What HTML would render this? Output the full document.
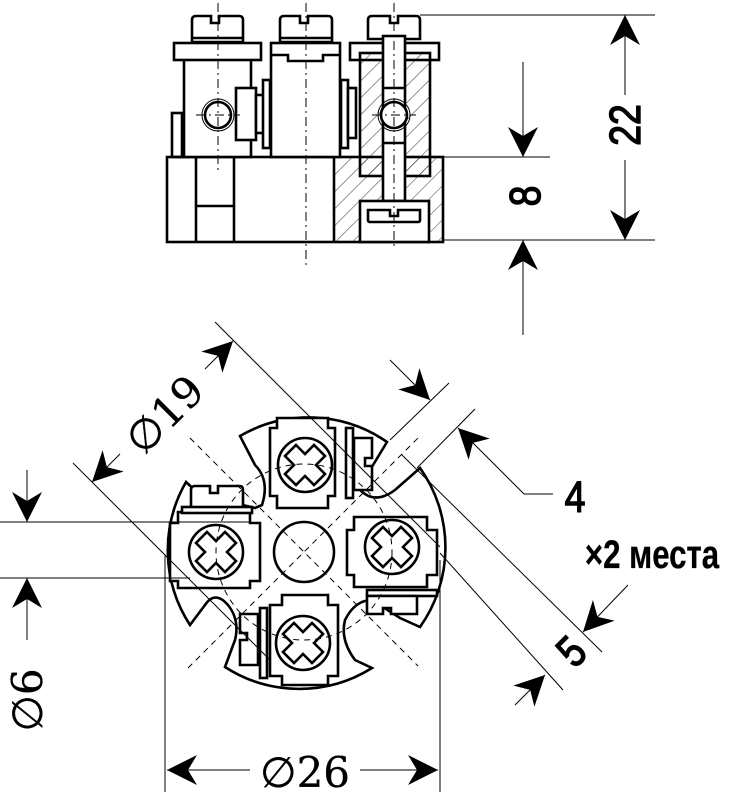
<!DOCTYPE html>
<html><head><meta charset="utf-8"><style>
html,body{margin:0;padding:0;background:#fff;}
svg{display:block;}
.t{stroke:#000;stroke-width:2.6;fill:none;}
.tf{stroke:#000;stroke-width:2.6;fill:#fff;}
.n{stroke:#000;stroke-width:1;fill:none;}
.c{stroke:#000;stroke-width:1;fill:none;stroke-dasharray:9 4 2 4;}
.d{stroke:#000;stroke-width:1;fill:none;stroke-dasharray:6 5;}
text{font-family:"Liberation Sans",sans-serif;fill:#000;stroke:#000;stroke-width:1.4;}
.s{font-family:"DejaVu Serif",serif;stroke-width:0.3;}
</style></head><body>
<svg width="743" height="800" viewBox="0 0 743 800" xmlns="http://www.w3.org/2000/svg">
<defs>
<marker id="a" viewBox="0 0 10 10" refX="10" refY="5" markerWidth="30" markerHeight="30" markerUnits="userSpaceOnUse" orient="auto">
<path d="M0,0 L10,5 L0,10 L3,5 Z" fill="#000"/></marker>
<pattern id="hat" patternUnits="userSpaceOnUse" width="12" height="12" patternTransform="rotate(45)">
<line x1="0" y1="0" x2="0" y2="12" stroke="#000" stroke-width="0.8"/></pattern>
<path id="cr" d="M-9,-20 L0,-11 L9,-20 L20,-9 L11,0 L20,9 L9,20 L0,11 L-9,20 L-20,9 L-11,0 L-20,-9 Z"/>
</defs>

<!-- ============ TOP VIEW ============ -->
<rect x="334" y="157" width="109" height="85" fill="url(#hat)"/>
<rect class="t" x="167" y="157" width="276" height="85"/>
<line class="t" x1="196" y1="157" x2="196" y2="242"/>
<line class="t" x1="234" y1="157" x2="234" y2="242"/>
<line class="t" x1="196" y1="206" x2="234" y2="206"/>
<line class="t" x1="334" y1="157" x2="334" y2="242"/>
<rect class="t" x="172" y="113" width="10" height="44"/>
<rect class="tf" x="184" y="53" width="67" height="104"/>
<rect class="tf" x="174" y="43" width="87" height="17"/>
<path class="tf" d="M192,42 V20 Q192,16 196,16 H211 V23 H219 V16 H239 Q243,16 243,20 V42 Z"/>
<line class="t" x1="192" y1="38" x2="243" y2="38"/>
<circle class="t" cx="218" cy="115" r="13"/>
<circle class="n" cx="218" cy="115" r="16"/>
<rect class="tf" x="236" y="88" width="20" height="52"/>
<rect class="tf" x="256" y="95" width="8" height="38"/>
<rect class="tf" x="263" y="80" width="7" height="68"/>
<rect class="tf" x="271" y="43" width="69" height="114"/>
<path class="t" d="M271,55 H288 V61 H323 V55 H340"/>
<path class="tf" d="M280,42 V20 Q280,16 284,16 H300 V23 H308 V16 H328 Q332,16 332,20 V42 Z"/>
<line class="t" x1="280" y1="38" x2="332" y2="38"/>
<rect class="tf" x="341" y="80" width="7" height="68"/>
<rect class="tf" x="348" y="88" width="8" height="50"/>
<rect class="tf" x="350" y="43" width="89" height="17"/>
<rect x="360" y="53" width="70" height="123" fill="url(#hat)"/>
<rect class="t" x="360" y="53" width="70" height="123"/>
<path class="tf" d="M368,39 V20 Q368,16 372,16 H390 V23 H398 V16 H416 Q420,16 420,20 V39 Z"/>
<rect class="tf" x="383" y="36" width="22" height="165"/>
<line class="t" x1="383" y1="88" x2="405" y2="88"/>
<line class="t" x1="383" y1="143" x2="405" y2="143"/>
<circle class="tf" cx="394" cy="115" r="13"/>
<circle class="n" cx="394" cy="115" r="16"/>
<rect class="tf" x="360" y="201" width="69" height="41"/>
<path class="t" d="M368,210 H390 V216 H398 V210 H420 V220 Q420,222 418,222 H370 Q368,222 368,220 Z"/>
<line class="c" x1="218" y1="3" x2="218" y2="172"/>
<line class="c" x1="306" y1="3" x2="306" y2="268"/>
<line class="c" x1="394" y1="3" x2="394" y2="248"/>
<line class="c" x1="196" y1="115" x2="240" y2="115"/>
<line class="c" x1="372" y1="115" x2="416" y2="115"/>
<line class="n" x1="420" y1="15" x2="655" y2="15"/>
<line class="n" x1="440" y1="157" x2="550" y2="157"/>
<line class="n" x1="443" y1="240" x2="655" y2="240"/>
<line class="n" x1="625" y1="95" x2="625" y2="15" marker-end="url(#a)"/>
<line class="n" x1="625" y1="160" x2="625" y2="240" marker-end="url(#a)"/>
<text font-size="44" transform="translate(640,125) rotate(-90) scale(0.85,1)" text-anchor="middle">22</text>
<line class="n" x1="523" y1="62" x2="523" y2="157" marker-end="url(#a)"/>
<line class="n" x1="523" y1="335" x2="523" y2="240" marker-end="url(#a)"/>
<text font-size="44" transform="translate(540,196) rotate(-90) scale(0.85,1)" text-anchor="middle">8</text>

<!-- ============ BOTTOM VIEW ============ -->
<path class="t" d="M240,436 A137,137 0 0 1 387,442 L370,470 Q355,480 360,490 Q375,505 395,490 L420,468 A137,137 0 0 1 420,627 L400,618 L372,600 Q355,600 345,620 Q340,640 355,660 L372,668 A137,137 0 0 1 225,667 L235,640 Q240,620 228,605 Q215,590 205,605 L190,625 A137,137 0 0 1 186,482 L200,495 L255,508 L262,505 Q270,480 255,465 Z"/>
<path class="tf" d="M277,418 H328 V428 H335 V496 H328 V508 H277 V496 H270 V428 H277 Z"/>
<circle class="t" cx="305" cy="465" r="27"/>
<path class="tf" d="M178,512 H250 V523 H260 V581 H250 V588 H178 V581 H170 V523 H178 Z"/>
<circle class="t" cx="216" cy="552" r="27"/>
<path class="tf" d="M354,517 H427 V530 H437 V575 H427 V587 H354 V575 H347 V530 H354 Z"/>
<circle class="t" cx="392" cy="547" r="27"/>
<path class="tf" d="M282,595 H328 V605 H338 V676 H328 V685 H282 V676 H270 V605 H282 Z"/>
<circle class="t" cx="303" cy="643" r="27"/>
<circle class="t" cx="304" cy="552" r="30"/>
<path class="tf" d="M191,508 V490 Q191,486 195,486 H210 V493 H218 V486 H240 Q243,486 243,490 V508 Z"/>
<rect class="tf" x="182" y="507" width="70" height="6"/>
<rect class="tf" x="346" y="428" width="7" height="70"/>
<path class="tf" d="M354,438 H372 V458 H365 V466 H372 V490 H354 Z"/>
<rect class="tf" x="367" y="590" width="70" height="6"/>
<path class="tf" d="M367,596 V614 H383 V608 H391 V614 H417 V596 Z"/>
<rect class="tf" x="260" y="608" width="7" height="70"/>
<path class="tf" d="M240,614 H258 V665 H240 V640 H247 V633 H240 Z"/>
<g stroke="#000" stroke-width="2.6" fill="#fff">
<use href="#cr" transform="translate(305,465)"/>
<use href="#cr" transform="translate(216,552)"/>
<use href="#cr" transform="translate(392,547)"/>
<use href="#cr" transform="translate(303,643)"/>
</g>
<line class="d" x1="190" y1="438" x2="418" y2="666"/>
<line class="d" x1="188" y1="668" x2="418" y2="438"/>
<circle class="d" cx="304" cy="552" r="88"/>
<line class="n" x1="165" y1="555" x2="165" y2="792"/>
<line class="n" x1="440" y1="560" x2="440" y2="792"/>
<line class="n" x1="250" y1="770" x2="167" y2="770" marker-end="url(#a)"/>
<line class="n" x1="360" y1="770" x2="438" y2="770" marker-end="url(#a)"/>
<text x="305" y="787" font-size="42" text-anchor="middle" class="s">∅26</text>
<line class="n" x1="0" y1="522" x2="250" y2="522"/>
<line class="n" x1="0" y1="578" x2="190" y2="578"/>
<line class="n" x1="27" y1="470" x2="27" y2="522" marker-end="url(#a)"/>
<line class="n" x1="27" y1="640" x2="27" y2="578" marker-end="url(#a)"/>
<text font-size="42" class="s" transform="translate(42,700) rotate(-90)" text-anchor="middle">∅6</text>
<line class="n" x1="215" y1="322" x2="440" y2="547"/>
<line class="n" x1="73" y1="463" x2="270" y2="660"/>
<line class="n" x1="120" y1="454" x2="92" y2="482" marker-end="url(#a)"/>
<line class="n" x1="205" y1="369" x2="233" y2="341" marker-end="url(#a)"/>
<text font-size="42" class="s" transform="translate(175,425) rotate(-45)" text-anchor="middle">∅19</text>
<line class="n" x1="390" y1="440" x2="449" y2="383"/>
<line class="n" x1="417" y1="468" x2="475" y2="409"/>
<line class="n" x1="390" y1="360" x2="430" y2="400" marker-end="url(#a)"/>
<polyline class="n" points="553,494 524,494 458,428" marker-end="url(#a)"/>
<text font-size="44" text-anchor="middle" transform="translate(575,512) scale(0.85,1)">4</text>
<text font-size="40" font-weight="bold" text-anchor="middle" transform="translate(652,568) scale(0.78,1)" style="stroke-width:0.3">×2 места</text>
<line class="n" x1="402" y1="455" x2="602" y2="652"/>
<line class="n" x1="440" y1="553" x2="563" y2="690"/>
<line class="n" x1="628" y1="585" x2="583" y2="632" marker-end="url(#a)"/>
<line class="n" x1="515" y1="705" x2="545" y2="675" marker-end="url(#a)"/>
<text font-size="44" transform="translate(582,662) rotate(-45) scale(0.85,1)" text-anchor="middle">5</text>
</svg>
</body></html>
